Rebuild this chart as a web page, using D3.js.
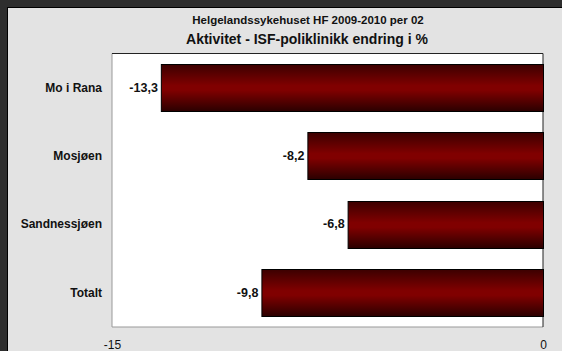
<!DOCTYPE html>
<html><head><meta charset="utf-8">
<script src="https://cdn.jsdelivr.net/npm/d3@7"></script>
<style>html,body{margin:0;padding:0;background:#2e2e2e;}svg{display:block;}</style>
</head><body>
<script>
const categories = ["Mo i Rana", "Mosjøen", "Sandnessjøen", "Totalt"];
const values = [-13.3, -8.2, -6.8, -9.8];
const valueLabels = ["-13,3", "-8,2", "-6,8", "-9,8"];
const xTicks = [-15, 0];
const title1 = "Helgelandssykehuset HF 2009-2010 per 02";
const title2 = "Aktivitet - ISF-poliklinikk endring i %";

const W = 562, H = 351;
const svg = d3.select("body").append("svg").attr("width", W).attr("height", H);
const font = "'Liberation Sans', Arial, sans-serif";

svg.append("rect").attr("width", W).attr("height", H).attr("fill", "#2e2e2e");
svg.append("rect").attr("x", 7.5).attr("y", 7.5).attr("width", W).attr("height", H)
  .attr("fill", "#e3e3e3").attr("stroke", "#000").attr("stroke-width", 1);

const m = {l: 112, r: 543, t: 53.5, b: 327};
const x = d3.scaleLinear().domain([-15, 0]).range([m.l, m.r]);
const y = d3.scaleBand().domain(categories).range([m.t, m.b]).paddingInner(0.31).paddingOuter(0.155);

const defs = svg.append("defs");
const g = defs.append("linearGradient").attr("id", "bg").attr("x1", 0).attr("y1", 0).attr("x2", 0).attr("y2", 1);
g.append("stop").attr("offset", "0%").attr("stop-color", "#3c0000");
g.append("stop").attr("offset", "45%").attr("stop-color", "#800000");
g.append("stop").attr("offset", "55%").attr("stop-color", "#800000");
g.append("stop").attr("offset", "100%").attr("stop-color", "#2a0000");

// plot area
svg.append("rect").attr("x", m.l).attr("y", m.t).attr("width", m.r - m.l).attr("height", m.b - m.t).attr("fill", "#fff");
svg.append("line").attr("x1", m.l).attr("x2", m.l).attr("y1", m.t).attr("y2", m.b).attr("stroke", "#999");
svg.append("line").attr("x1", m.l).attr("x2", m.r).attr("y1", m.b).attr("y2", m.b).attr("stroke", "#999");
svg.append("line").attr("x1", m.l).attr("x2", m.r).attr("y1", m.t).attr("y2", m.t).attr("stroke", "#222");
svg.append("line").attr("x1", m.r).attr("x2", m.r).attr("y1", m.t).attr("y2", m.b).attr("stroke", "#222");

// bars
svg.selectAll("rect.bar").data(categories).enter().append("rect").attr("class", "bar")
  .attr("x", (d, i) => x(values[i]) + 0.5)
  .attr("y", d => Math.round(y(d)) + 0.5)
  .attr("width", (d, i) => x(0) - x(values[i]))
  .attr("height", Math.round(y.bandwidth()))
  .attr("fill", "url(#bg)").attr("stroke", "#000").attr("stroke-width", 1);

// value labels
svg.selectAll("text.val").data(categories).enter().append("text").attr("class", "val")
  .attr("x", (d, i) => x(values[i]) - 3)
  .attr("y", d => y(d) + y.bandwidth() / 2 + 4)
  .attr("text-anchor", "end").attr("font-family", font).attr("font-weight", "bold").attr("font-size", 12.5)
  .attr("fill", "#111").text((d, i) => valueLabels[i]);

// category axis labels
const yAxis = d3.axisLeft(y).tickSize(0).tickPadding(10);
const ya = svg.append("g").attr("transform", `translate(${m.l},0)`).call(yAxis);
ya.select(".domain").remove();
ya.selectAll("text").attr("font-family", font).attr("font-weight", "bold").attr("font-size", 12).attr("fill", "#111");

// x axis
const xAxis = d3.axisBottom(x).tickValues(xTicks).tickSize(0).tickPadding(13).tickFormat(d3.format("d"));
const xa = svg.append("g").attr("transform", `translate(0,${m.b})`).call(xAxis);
xa.select(".domain").remove();
xa.selectAll("text").attr("font-family", font).attr("font-size", 12).attr("fill", "#111")
  .text(d => d < 0 ? "-" + Math.abs(d) : d);

// titles
svg.append("text").attr("x", 308).attr("y", 24).attr("text-anchor", "middle").attr("font-family", font)
  .attr("font-weight", "bold").attr("font-size", 11.5).attr("fill", "#111").text(title1);
svg.append("text").attr("x", 307).attr("y", 44).attr("text-anchor", "middle").attr("font-family", font)
  .attr("font-weight", "bold").attr("font-size", 14).attr("fill", "#111").text(title2);
</script>
</body></html>
